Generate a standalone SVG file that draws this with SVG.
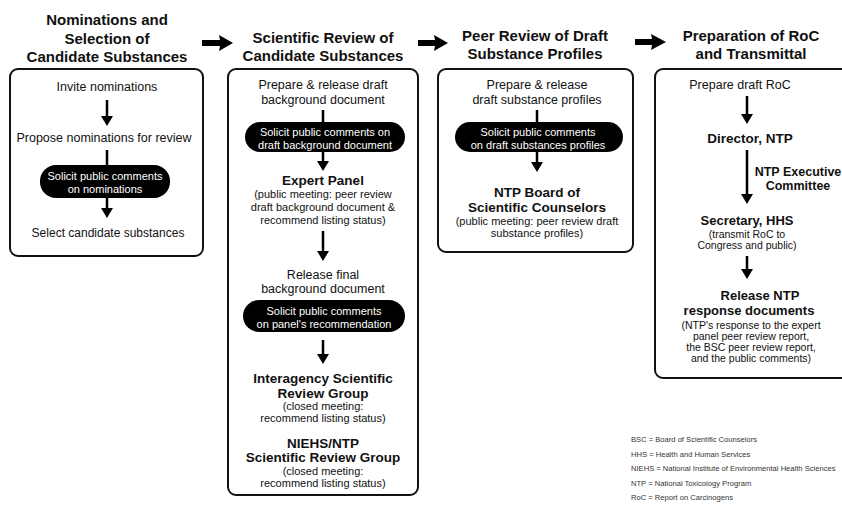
<svg xmlns="http://www.w3.org/2000/svg" width="842" height="515" viewBox="0 0 842 515">
<defs>
<marker id="ah" viewBox="0 0 10 12" refX="2" refY="6" markerWidth="10" markerHeight="12" markerUnits="userSpaceOnUse" orient="auto">
<path d="M0,0 L10,6 L0,12 z" fill="#000"/>
</marker>
</defs>
<style>
text{font-family:"Liberation Sans",Arial,sans-serif;fill:#111;text-anchor:middle}
.h{font-size:15px;font-weight:bold}
.a{font-size:12.5px}
.b{font-size:13.5px;font-weight:bold}
.e{font-size:12.5px;font-weight:bold}
.f{font-size:13px;font-weight:bold}
.p{font-size:11px}
.q{font-size:10.5px}
.w{font-size:11px;fill:#fff}
.box{fill:none;stroke:#111;stroke-width:2}
.pill{fill:#000}
.ln{stroke:#000;stroke-width:2.5;fill:none}
.big{fill:#000}
.lg{font-size:7.6px;text-anchor:start;fill:#333}
</style>
<rect width="842" height="515" fill="#fff"/>

<g id="connectors">
<polygon class="big" points="202,40 220,40 219,35 233,43 219,51 220,46 202,46"/>
<polygon class="big" points="418,40 435,40 434,35 448,43 434,51 435,46 418,46"/>
<polygon class="big" points="635,39 652,39 651,34 666,42 651,50 652,45 635,45"/>
<line class="ln" x1="107" y1="100" x2="107" y2="118" marker-end="url(#ah)"/>
<line class="ln" x1="107" y1="150" x2="107" y2="210" marker-end="url(#ah)"/>
<line class="ln" x1="323" y1="110" x2="323" y2="163" marker-end="url(#ah)"/>
<line class="ln" x1="323" y1="231" x2="323" y2="253" marker-end="url(#ah)"/>
<line class="ln" x1="323" y1="340" x2="323" y2="356" marker-end="url(#ah)"/>
<line class="ln" x1="537" y1="110" x2="537" y2="164" marker-end="url(#ah)"/>
<line class="ln" x1="747" y1="96" x2="747" y2="116" marker-end="url(#ah)"/>
<line class="ln" x1="747" y1="150" x2="747" y2="196" marker-end="url(#ah)"/>
<line class="ln" x1="747" y1="256" x2="747" y2="271" marker-end="url(#ah)"/>
</g>

<g id="col1">
<text class="h" x="107" y="25">Nominations and</text>
<text class="h" x="107" y="44">Selection of</text>
<text class="h" x="107" y="62">Candidate Substances</text>
<rect class="box" x="10" y="69" width="193" height="187" rx="8"/>
<text class="a" x="107" y="91">Invite nominations</text>
<text class="a" x="104" y="142">Propose nominations for review</text>
<g id="pill1">
<rect class="pill" x="40" y="165" width="130" height="33" rx="16"/>
<text class="w" x="105" y="180">Solicit public comments</text>
<text class="w" x="105" y="193">on nominations</text>
</g>
<text class="a" x="108" y="237" style="font-size:12px">Select candidate substances</text>
</g>

<g id="col2">
<text class="h" x="323" y="43">Scientific Review of</text>
<text class="h" x="323" y="61">Candidate Substances</text>
<rect class="box" x="228" y="69" width="190" height="426" rx="8"/>
<text class="a" x="323" y="89">Prepare &amp; release draft</text>
<text class="a" x="323" y="104">background document</text>
<g id="pill2">
<rect class="pill" x="245" y="122" width="160" height="30" rx="15"/>
<text class="w" x="325" y="136">Solicit public comments on</text>
<text class="w" x="325" y="149">draft background document</text>
</g>
<g id="expert">
<text class="b" x="323" y="185">Expert Panel</text>
<text class="p" x="323" y="198">(public meeting: peer review</text>
<text class="p" x="323" y="211">draft background document &amp;</text>
<text class="p" x="323" y="224">recommend listing status)</text>
</g>
<text class="a" x="323" y="279">Release final</text>
<text class="a" x="323" y="293">background document</text>
<g id="pill3">
<rect class="pill" x="243" y="300" width="162" height="32" rx="16"/>
<text class="w" x="324" y="315">Solicit public comments</text>
<text class="w" x="324" y="328">on panel's recommendation</text>
</g>
<g id="isrg">
<text class="b" x="323" y="383">Interagency Scientific</text>
<text class="b" x="323" y="398">Review Group</text>
<text class="p" x="323" y="410">(closed meeting:</text>
<text class="p" x="323" y="422">recommend listing status)</text>
</g>
<g id="srg">
<text class="b" x="323" y="448">NIEHS/NTP</text>
<text class="b" x="323" y="462">Scientific Review Group</text>
<text class="p" x="323" y="475">(closed meeting:</text>
<text class="p" x="323" y="487">recommend listing status)</text>
</g>
</g>

<g id="col3">
<text class="h" x="535" y="41">Peer Review of Draft</text>
<text class="h" x="535" y="59">Substance Profiles</text>
<rect class="box" x="438" y="69" width="195" height="183" rx="8"/>
<text class="a" x="537" y="89">Prepare &amp; release</text>
<text class="a" x="537" y="104">draft substance profiles</text>
<g id="pill4">
<rect class="pill" x="455" y="122" width="168" height="30" rx="15"/>
<text class="w" x="538" y="136">Solicit public comments</text>
<text class="w" x="538" y="149">on draft substances profiles</text>
</g>
<g id="bsc">
<text class="b" x="537" y="197">NTP Board of</text>
<text class="b" x="537" y="212">Scientific Counselors</text>
<text class="p" x="537" y="225">(public meeting: peer review draft</text>
<text class="p" x="537" y="237">substance profiles)</text>
</g>
</g>

<g id="col4">
<text class="h" x="751" y="41">Preparation of RoC</text>
<text class="h" x="751" y="59">and Transmittal</text>
<rect class="box" x="655" y="69" width="200" height="309" rx="8"/>
<text class="a" x="740" y="89">Prepare draft RoC</text>
<text class="b" x="750" y="143">Director, NTP</text>
<g id="exec">
<text class="e" x="798" y="176">NTP Executive</text>
<text class="e" x="798" y="190">Committee</text>
</g>
<g id="hhs">
<text class="f" x="747" y="225">Secretary, HHS</text>
<text class="q" x="747" y="238">(transmit RoC to</text>
<text class="q" x="747" y="249">Congress and public)</text>
</g>
<g id="release">
<text class="f" x="760" y="300">Release NTP</text>
<text class="f" x="749" y="315">response documents</text>
<text class="q" x="751" y="329">(NTP's response to the expert</text>
<text class="q" x="751" y="340">panel peer review report,</text>
<text class="q" x="751" y="351">the BSC peer review report,</text>
<text class="q" x="751" y="362">and the public comments)</text>
</g>
</g>

<g id="legend">
<text class="lg" x="631" y="442">BSC = Board of Scientific Counselors</text>
<text class="lg" x="631" y="457">HHS = Health and Human Services</text>
<text class="lg" x="631" y="471">NIEHS = National Institute of Environmental Health Sciences</text>
<text class="lg" x="631" y="486">NTP = National Toxicology Program</text>
<text class="lg" x="631" y="500">RoC = Report on Carcinogens</text>
</g>
</svg>
